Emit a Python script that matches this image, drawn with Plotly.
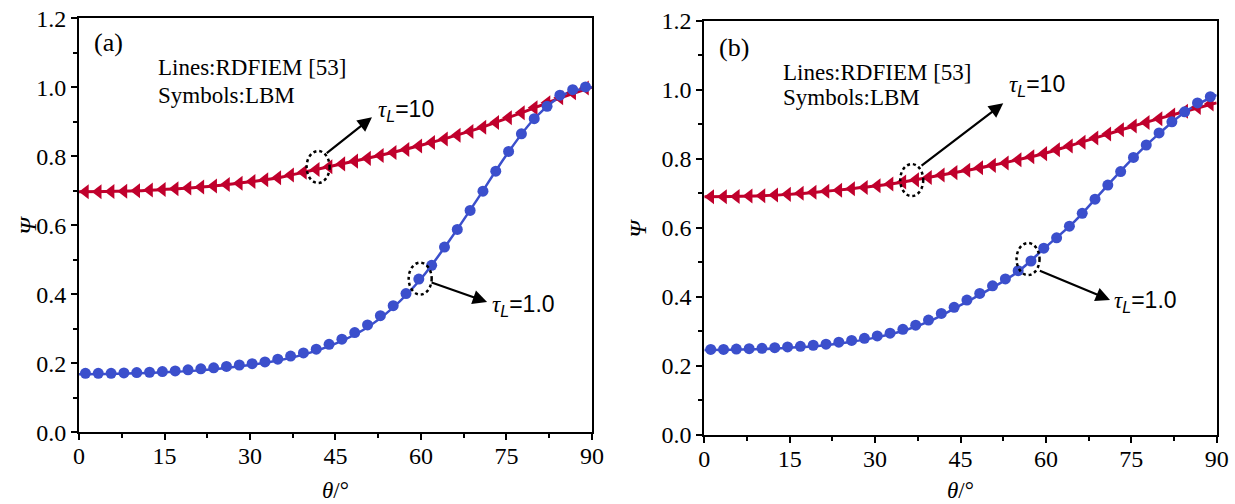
import plotly.graph_objects as go

# ---------------- data ----------------
theta_lbm = [1.125, 3.375, 5.625, 7.875, 10.125, 12.375, 14.625, 16.875, 19.125, 21.375,
             23.625, 25.875, 28.125, 30.375, 32.625, 34.875, 37.125, 39.375, 41.625, 43.875,
             46.125, 48.375, 50.625, 52.875, 55.125, 57.375, 59.625, 61.875, 64.125, 66.375,
             68.625, 70.875, 73.125, 75.375, 77.625, 79.875, 82.125, 84.375, 86.625, 88.875]

theta_line = [0, 5, 10, 15, 20, 25, 30, 35, 40, 45, 50, 55, 60, 65, 70, 75, 80, 85, 90]

# panel (a)
a_lbm_tau1 = [0.171, 0.171, 0.171, 0.172, 0.173, 0.174, 0.176, 0.178, 0.181, 0.184,
              0.187, 0.191, 0.195, 0.199, 0.204, 0.212, 0.221, 0.230, 0.241, 0.255,
              0.270, 0.289, 0.311, 0.338, 0.367, 0.402, 0.444, 0.484, 0.537, 0.588,
              0.643, 0.699, 0.757, 0.814, 0.865, 0.909, 0.945, 0.977, 0.993, 1.001]
a_lbm_tau10 = [0.697, 0.697, 0.698, 0.699, 0.700, 0.702, 0.704, 0.706, 0.708, 0.711,
               0.714, 0.718, 0.722, 0.727, 0.732, 0.738, 0.746, 0.754, 0.762, 0.770,
               0.778, 0.786, 0.794, 0.802, 0.811, 0.820, 0.830, 0.840, 0.850, 0.861,
               0.872, 0.884, 0.898, 0.912, 0.926, 0.941, 0.955, 0.970, 0.984, 0.998]
a_line_tau1 = [0.168, 0.169, 0.171, 0.174, 0.178, 0.185, 0.195, 0.208, 0.228, 0.257,
               0.298, 0.360, 0.445, 0.556, 0.678, 0.804, 0.911, 0.979, 1.000]
a_line_tau10 = [0.697, 0.698, 0.700, 0.704, 0.709, 0.716, 0.726, 0.738, 0.756, 0.774,
                0.792, 0.811, 0.832, 0.855, 0.880, 0.910, 0.941, 0.972, 1.000]

# panel (b)
b_lbm_tau1 = [0.248, 0.248, 0.249, 0.250, 0.251, 0.253, 0.255, 0.257, 0.260, 0.263,
              0.269, 0.274, 0.280, 0.287, 0.295, 0.306, 0.318, 0.333, 0.352, 0.370,
              0.391, 0.410, 0.432, 0.452, 0.476, 0.504, 0.541, 0.571, 0.605, 0.642,
              0.683, 0.724, 0.763, 0.804, 0.840, 0.875, 0.907, 0.936, 0.962, 0.980]
b_lbm_tau10 = [0.690, 0.690, 0.691, 0.692, 0.693, 0.695, 0.697, 0.700, 0.703, 0.706,
               0.709, 0.713, 0.717, 0.722, 0.727, 0.733, 0.739, 0.746, 0.753, 0.760,
               0.767, 0.774, 0.781, 0.788, 0.797, 0.806, 0.815, 0.826, 0.837, 0.848,
               0.860, 0.872, 0.884, 0.895, 0.905, 0.916, 0.927, 0.938, 0.949, 0.959]
b_line_tau1 = [0.246, 0.247, 0.249, 0.253, 0.258, 0.268, 0.282, 0.302, 0.333, 0.376,
               0.421, 0.472, 0.545, 0.618, 0.708, 0.797, 0.875, 0.942, 0.985]
b_line_tau10 = [0.690, 0.691, 0.693, 0.697, 0.704, 0.712, 0.721, 0.733, 0.748, 0.763,
                0.779, 0.797, 0.817, 0.842, 0.867, 0.893, 0.917, 0.940, 0.962]

x_ticks = [0, 15, 30, 45, 60, 75, 90]
y_ticks = [0.0, 0.2, 0.4, 0.6, 0.8, 1.0, 1.2]
panel_labels = ["(a)", "(b)"]

# ---------------- style ----------------
BLUE = "#3b4fcc"
RED = "#c0002c"
SERIF = "Liberation Serif"
SANS = "Liberation Sans"

fig = go.Figure()

panels = [
    ("x", "y", a_lbm_tau1, a_lbm_tau10, a_line_tau1, a_line_tau10),
    ("x2", "y2", b_lbm_tau1, b_lbm_tau10, b_line_tau1, b_line_tau10),
]
for xa, ya, lb1, lb10, ln1, ln10 in panels:
    fig.add_trace(go.Scatter(x=theta_line, y=ln10, mode="lines", line=dict(color=RED, width=3, shape="spline"),
                             xaxis=xa, yaxis=ya, showlegend=False))
    fig.add_trace(go.Scatter(x=theta_line, y=ln1, mode="lines", line=dict(color=BLUE, width=2.5, shape="spline"),
                             xaxis=xa, yaxis=ya, showlegend=False))
    fig.add_trace(go.Scatter(x=theta_lbm, y=lb10, mode="markers",
                             marker=dict(symbol="triangle-left", size=13, color=RED, line=dict(width=0)),
                             xaxis=xa, yaxis=ya, showlegend=False, cliponaxis=False))
    fig.add_trace(go.Scatter(x=theta_lbm, y=lb1, mode="markers",
                             marker=dict(symbol="circle", size=11, color=BLUE, line=dict(width=0)),
                             xaxis=xa, yaxis=ya, showlegend=False, cliponaxis=False))

axis_common = dict(
    showgrid=False, zeroline=False, showline=True, linecolor="black", linewidth=2,
    mirror=True, ticks="outside", ticklen=6, tickwidth=2, tickcolor="black", automargin=False,
    tickfont=dict(family=SERIF, size=24, color="black"),
)
xminor = dict(dtick=7.5, tick0=0, ticks="outside", ticklen=4, tickwidth=2, tickcolor="black")
yminor = dict(dtick=0.1, tick0=0, ticks="outside", ticklen=4, tickwidth=2, tickcolor="black")

fig.update_layout(
    template="none",
    width=1235, height=504,
    margin=dict(l=0, r=0, t=0, b=0, pad=0),
    paper_bgcolor="white", plot_bgcolor="white",
    xaxis=dict(domain=[0.064, 0.4793], range=[0, 90], tickvals=x_ticks, anchor="y",
               minor=xminor, ticklabelstandoff=-5, **axis_common),
    yaxis=dict(domain=[0.1423, 0.9637], range=[0, 1.2], tickvals=y_ticks,
               ticktext=[f"{v:.1f}" for v in y_ticks], anchor="x", minor=yminor, **axis_common),
    xaxis2=dict(domain=[0.5703, 0.9852], range=[0, 90], tickvals=x_ticks, anchor="y2",
                minor=xminor, ticklabelstandoff=-5, **axis_common),
    yaxis2=dict(domain=[0.1369, 0.9589], range=[0, 1.2], tickvals=y_ticks,
                ticktext=[f"{v:.1f}" for v in y_ticks], anchor="x2", minor=yminor, **axis_common),
)

ann = []
shapes = []

def tau_text(val):
    return (f"<span style='font-family:{SERIF}'><i>τ</i></span><sub><i>L</i></sub>={val}")

# per panel annotation geometry (data coordinates)
geo = [
    dict(xr="x", yr="y", label=(2.3, 1.13), l1=(13.5, 1.058), l2=(13.5, 0.977),
         e10=(41.95, 0.769), a10=((43.2, 0.806), (51.4, 0.913)), t10=(52.1, 0.933),
         e1=(59.86, 0.4455), a1=((61.6, 0.4357), (71.6, 0.3777)), t1=(72.1, 0.368)),
    dict(xr="x2", yr="y2", label=(2.3, 1.121), l1=(13.5, 1.051), l2=(13.5, 0.979),
         e10=(36.43, 0.7385), a10=((37.9, 0.777), (52.5, 0.9606)), t10=(53.1, 1.0136),
         e1=(56.86, 0.5097), a1=((58.67, 0.4778), (71.26, 0.391)), t1=(71.56, 0.386)),
]

for i, g in enumerate(geo):
    xr, yr = g["xr"], g["yr"]
    ann.append(dict(x=g["label"][0], y=g["label"][1], xref=xr, yref=yr, text=panel_labels[i],
                    showarrow=False, xanchor="left", yanchor="middle",
                    font=dict(family=SERIF, size=26, color="black")))
    for key, line_txt in (("l1", "Lines:RDFIEM [53]"), ("l2", "Symbols:LBM")):
        ann.append(dict(x=g[key][0], y=g[key][1], xref=xr, yref=yr, text=line_txt,
                        showarrow=False, xanchor="left", yanchor="middle",
                        font=dict(family=SERIF, size=23, color="black")))
    for ek, ak, tk, val in (("e10", "a10", "t10", "10"), ("e1", "a1", "t1", "1.0")):
        cx, cy = g[ek]
        shapes.append(dict(type="circle", xref=xr, yref=yr, xsizemode="pixel", ysizemode="pixel",
                           xanchor=cx, yanchor=cy, x0=-11.5, x1=11.5, y0=-16, y1=16,
                           line=dict(color="black", width=2.5, dash="dot")))
        (tx, ty), (hx, hy) = g[ak]
        ann.append(dict(x=hx, y=hy, ax=tx, ay=ty, xref=xr, yref=yr, axref=xr, ayref=yr,
                        text="", showarrow=True, arrowhead=2, arrowsize=1.3, arrowwidth=2.2,
                        arrowcolor="black", standoff=0, startstandoff=0))
        ann.append(dict(x=g[tk][0], y=g[tk][1], xref=xr, yref=yr, text=tau_text(val),
                        showarrow=False, xanchor="left", yanchor="middle",
                        font=dict(family=SANS, size=23, color="black")))

# axis titles
for xc, yc_title in ((0.2717, 0.026), (0.7778, 0.026)):
    ann.append(dict(x=xc, y=yc_title, xref="paper", yref="paper",
                    text="<i>θ</i>/°", showarrow=False, xanchor="center", yanchor="middle",
                    font=dict(family=SERIF, size=23, color="black")))
ann.append(dict(x=0.023, y=0.553, xref="paper", yref="paper", text="<i>Ψ</i>", textangle=-90,
                showarrow=False, xanchor="center", yanchor="middle",
                font=dict(family=SERIF, size=24, color="black")))
ann.append(dict(x=0.5165, y=0.548, xref="paper", yref="paper", text="<i>Ψ</i>", textangle=-90,
                showarrow=False, xanchor="center", yanchor="middle",
                font=dict(family=SERIF, size=24, color="black")))

fig.update_layout(annotations=ann, shapes=shapes)
fig.write_html("out.html")
